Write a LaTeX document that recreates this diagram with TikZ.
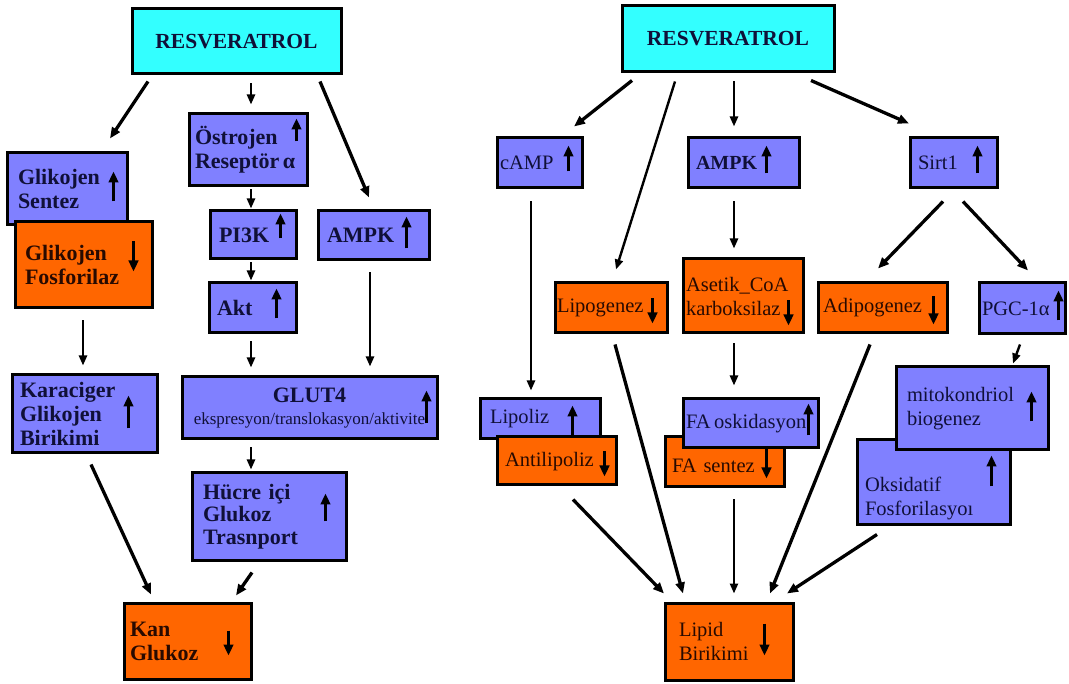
\documentclass[tikz,border=0pt]{standalone}
\usepackage{fontspec}
\setmainfont{Liberation Serif}
\usetikzlibrary{arrows.meta}
\definecolor{blu}{RGB}{128,128,255}
\definecolor{org}{RGB}{255,102,0}
\definecolor{cyn}{RGB}{51,255,255}
\definecolor{txb}{RGB}{16,16,56}
\definecolor{txo}{RGB}{40,10,0}
% name, x1, y1, x2, y2, style, inset, text
\newcommand\mkbox[8]{%
  \pgfmathsetmacro\bxw{#4-#2}\pgfmathsetmacro\bxh{#5-#3}\pgfmathsetmacro\bxt{#4-#2-2*#7}%
  \node[#6, minimum width=\bxw pt, minimum height=\bxh pt, text width=\bxt pt, inner xsep=#7 pt, anchor=center] (#1) at ({(#2+#4)/2},{(#3+#5)/2}) {#8};}
% indicator arrow: node, dx, y-from, y-to (relative to north west)
\newcommand\indar[4]{\draw[ind] ([shift={(#2,#3)}]#1.north west) -- ([shift={(#2,#4)}]#1.north west);}
\begin{document}
\begin{tikzpicture}[x=1pt,y=-1pt,
  bx/.style={draw=black, line width=3pt, rectangle, inner ysep=1pt, align=left},
  bb/.style={bx, fill=blu, text=txb},
  ob/.style={bx, fill=org, text=txo},
  cb/.style={bx, fill=cyn, text=txb, align=center},
  fL/.style={font=\fontsize{22}{24}\selectfont\bfseries},
  fR/.style={font=\fontsize{20.5}{24}\selectfont},
  conn/.style={line width=2.4pt, -{Triangle[length=10pt,width=8pt]}},
  connt/.style={line width=3.3pt, -{Triangle[length=11pt,width=9pt]}},
  ind/.style={line width=3.5pt, -{Triangle[length=11pt,width=9.5pt]}}]
\fill[white] (0,0) rectangle (1069,684);
\useasboundingbox (0,0) rectangle (1069,684);

% ---------- left diagram ----------
\mkbox{res1}{132}{9}{341}{74}{cb,fL,font=\fontsize{21.5}{24}\selectfont\bfseries}{0}{RESVERATROL}
\mkbox{gs}{7}{153}{127}{225}{bb,fL}{11}{Glikojen\\Sentez}
\mkbox{gf}{15}{222}{152}{308}{ob,fL}{10}{Glikojen\\Fosforilaz}
\mkbox{kgb}{12}{375}{157}{453}{bb,fL}{8}{Karaciger\\Glikojen\\Birikimi}
\mkbox{kan}{124}{603}{251}{679}{ob,fL}{6}{Kan\\Glukoz}
\mkbox{ost}{189}{114}{307}{186}{bb,fL}{6}{Östrojen\\Reseptör\,α}
\mkbox{pi3k}{210}{211}{296}{259}{bb,fL}{9}{PI3K}
\mkbox{ampk1}{318}{211}{429}{260}{bb,fL}{9}{AMPK}
\mkbox{akt}{209}{283}{296}{333}{bb,fL}{8}{Akt}
\mkbox{glut}{182}{377}{437}{439}{bb,fL,align=center}{3}{GLUT4\\[-2pt]{\fontsize{17}{20}\selectfont\mdseries ekspresyon/translokasyon/aktivite}}
\mkbox{hucre}{192}{473}{346}{560}{bb,fL,font=\fontsize{22}{22.5}\selectfont\bfseries}{11}{Hücre içi\\Glukoz\\Trasnport}

\draw[connt] ([shift={(-88.5,6)}]res1.south) -- ([shift={(43,-13)}]gs.north);
\draw[conn] ([shift={(14.5,8)}]res1.south) -- ([shift={(3,-8)}]ost.north);
\draw[connt] ([shift={(83.5,6)}]res1.south) -- ([shift={(-4.5,-12)}]ampk1.north);
\draw[conn] ([shift={(3,2)}]ost.south) -- ([shift={(-2,-1)}]pi3k.north);
\draw[conn] ([shift={(-2,2)}]pi3k.south) -- ([shift={(-1.5,-1)}]akt.north);
\draw[conn] ([shift={(-1.5,7)}]akt.south) -- ([shift={(-58.5,-8)}]glut.north);
\draw[conn] ([shift={(-3.5,11)}]ampk1.south) -- ([shift={(60.5,-9)}]glut.north);
\draw[conn] ([shift={(-58.5,7)}]glut.south) -- ([shift={(-18,-2)}]hucre.north);
\draw[conn] ([shift={(-0.5,11)}]gf.south) -- ([shift={(-1.5,-8)}]kgb.north);
\draw[connt] ([shift={(6.5,10)}]kgb.south) -- ([shift={(-36.5,-7)}]kan.north);
\draw[connt] ([shift={(-17,11)}]hucre.south) -- ([shift={(48.5,-6)}]kan.north);

% ---------- right diagram ----------
\mkbox{res2}{622}{6}{834}{72}{cb,fL,font=\fontsize{21.5}{24}\selectfont\bfseries}{0}{RESVERATROL}
\mkbox{camp}{497}{138}{582}{188}{bb,fR}{3}{cAMP}
\mkbox{ampk2}{688}{138}{799}{188}{bb,fL,font=\fontsize{20}{24}\selectfont\bfseries}{8}{AMPK}
\mkbox{sirt}{910}{138}{997}{188}{bb,fR}{8}{Sirt1}
\mkbox{lipog}{555}{283}{667}{333}{ob,fR}{2}{Lipogenez}
\mkbox{acoa}{683}{259}{803}{333}{ob,fR}{3}{Asetik\_CoA\\karboksilaz}
\mkbox{adipo}{818}{283}{947}{333}{ob,fR}{5}{Adipogenez}
\mkbox{pgc}{979}{283}{1065}{334}{bb,fR}{3}{PGC-1α}
\mkbox{lipol}{480}{399}{600}{439}{bb,fR}{10}{Lipoliz}
\mkbox{antil}{497}{437}{616}{485}{ob,fR,text height=16pt,text depth=4pt}{8}{Antilipoliz}
\mkbox{fasen}{665}{437}{784}{487}{ob,fR,text height=24pt,text depth=2pt}{7}{FA sentez}
\mkbox{faox}{683}{399}{818}{448}{bb,fR}{3}{FA\,oskidasyon}
\mkbox{oksi}{857}{440}{1010}{525}{bb,fR,text height=24pt,text depth=6pt}{8}{Oksidatif\\Fosforilasyoı}
\mkbox{mito}{896}{367}{1048}{450}{bb,fR}{11}{mitokondriol\\biogenez}
\mkbox{lipid}{665}{603}{793}{680}{ob,fR}{14}{Lipid\\Birikimi}

\draw[connt] ([shift={(-96,7)}]res2.south) -- ([shift={(34.5,-10)}]camp.north);
\draw[conn] ([shift={(-53,8)}]res2.south) -- ([shift={(5,-12)}]lipog.north);
\draw[conn] ([shift={(6,8)}]res2.south) -- ([shift={(-9.5,-10)}]ampk2.north);
\draw[connt] ([shift={(83,7)}]res2.south) -- ([shift={(-44.5,-13)}]sirt.north);
\draw[conn] ([shift={(-8.5,12)}]camp.south) -- ([shift={(-9,-7)}]lipol.north);
\draw[conn] ([shift={(-9.5,12)}]ampk2.south) -- ([shift={(-9,-9)}]acoa.north);
\draw[connt] ([shift={(-10.5,12)}]sirt.south) -- ([shift={(-4.5,-13)}]adipo.north);
\draw[connt] ([shift={(9.5,12)}]sirt.south) -- ([shift={(6,-11)}]pgc.north);
\draw[conn] ([shift={(-2,9)}]pgc.south) -- ([shift={(41,-2)}]mito.north);
\draw[conn] ([shift={(-9,9)}]acoa.south) -- ([shift={(-16.5,-12)}]faox.north);
\draw[connt] ([shift={(4,10)}]lipog.south) -- ([shift={(-46,-8)}]lipid.north);
\draw[connt] ([shift={(-12.5,10)}]adipo.south) -- ([shift={(41,-8)}]lipid.north);
\draw[connt] ([shift={(16.5,13)}]antil.south) -- ([shift={(-65,-8)}]lipid.north);
\draw[conn] ([shift={(9.5,11)}]fasen.south) -- ([shift={(5,-8)}]lipid.north);
\draw[connt] ([shift={(-56.5,8)}]oksi.south) -- ([shift={(58,-8)}]lipid.north);

% ---------- up / down indicators ----------
\indar{gs}{108}{50}{20}
\indar{gf}{120}{21}{51}
\indar{kgb}{118}{55}{22}
\indar{kan}{106}{29}{54}
\indar{ost}{109}{29}{6}
\indar{pi3k}{72}{29}{4}
\indar{ampk1}{90}{39}{7}
\indar{akt}{69}{37}{7}
\indar{glut}{246}{48}{15}
\indar{hucre}{135}{50}{22}
\indar{camp}{73}{35}{9}
\indar{ampk2}{80}{37}{9}
\indar{sirt}{69}{37}{9}
\indar{lipog}{99}{17}{42}
\indar{acoa}{107}{43}{68}
\indar{adipo}{117}{15}{43}
\indar{pgc}{81}{39}{9}
\indar{lipol}{94}{38}{8}
\indar{antil}{109}{16}{41}
\indar{faox}{127}{38}{6}
\indar{fasen}{103}{12}{43}
\indar{mito}{137}{56}{26}
\indar{oksi}{136}{48}{17}
\indar{lipid}{101}{22}{54}
\end{tikzpicture}
\end{document}
